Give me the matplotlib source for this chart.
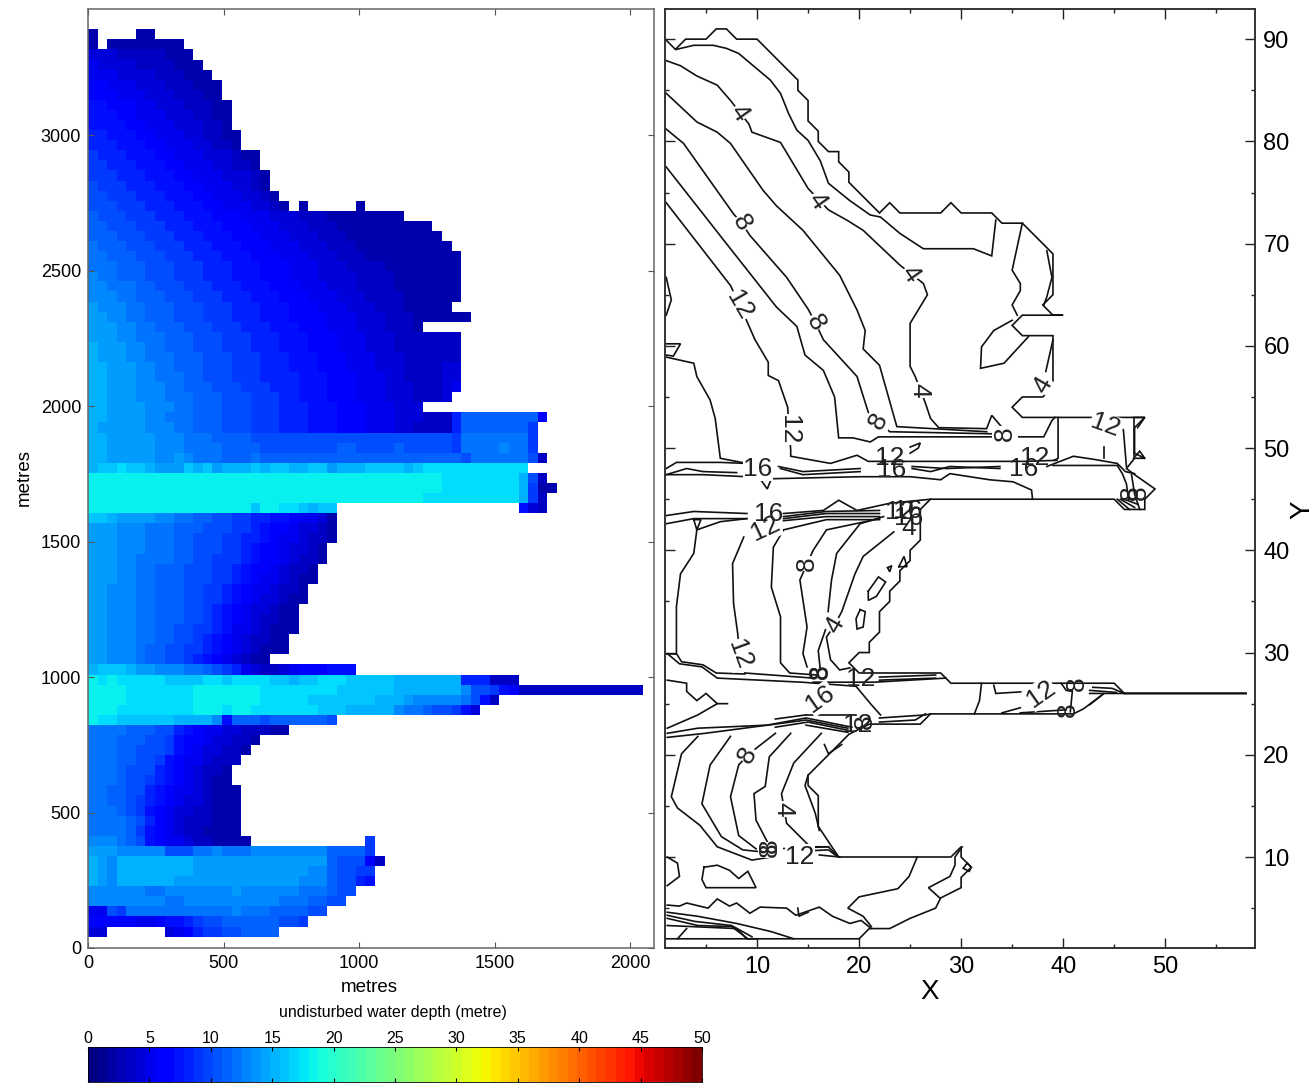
import numpy as np
import matplotlib
matplotlib.use("Agg")
import matplotlib.pyplot as plt
from matplotlib.cm import ScalarMappable
from matplotlib.colors import Normalize

plt.rcParams['font.family'] = ['Liberation Sans', 'DejaVu Sans']

# depth per grid cell in metres, one base-36 char per cell, '.' = land, top row first
depth_rows = [
    "2.... 22",
    "2.222 22222",
    "44433 33322 2",
    "54444 33332 22",
    "55544 44333 222",
    "66555 44433 3222",
    "66655 54443 3322",
    "77666 55444 33322",
    "77766 55544 43322",
    "77776 65554 44332",
    "88777 66555 44332 2",
    "88877 76655 54433 2",
    "98887 77665 55444 322",
    "99888 77766 55544 332",
    "99988 87776 65554 4432",
    "a9998 88777 66555 4432",
    "aa999 88877 76655 54432",
    "aaa99 98887 77665 55443 2.2.. ...2.",
    "baaa9 99888 77766 65554 44333 22222 222",
    "bbaaa 99988 87776 66555 44433 32222 22222 2",
    "bbbaa a9998 88777 66655 54443 33222 22222 22",
    "cbbba aa999 88877 76665 55444 33322 22222 222",
    "ccbbb aaa99 98887 77666 55544 43332 22222 2222",
    "cccbb baaa9 99888 77766 65554 44333 32222 2222",
    "dccbb baaa9 99888 77766 65554 44433 33222 2222",
    "ddccc bbaaa 99988 87776 66555 44433 33222 2222",
    "dddcc bbbaa a9998 88777 66655 54443 33322 2222",
    "edddc cbbba aa999 88877 76665 55444 33322 222",
    "eeddc cbbba aa999 88877 76666 55544 43332 22222",
    "eeedd ccbbb aaa99 98887 77666 55544 43332",
    "eeedd cccbb baaa9 99888 77766 65554 44333 3333",
    "feeed dccbb baaa9 99888 77766 65554 44333 3333",
    "feeed dcccb bbaaa 99988 87776 66555 44433 3333",
    "ffeee ddccb bbaaa 99988 87776 66555 44433 3344",
    "ffeee ddccc bbaaa 99988 88777 66655 54433 3344",
    "ffeee dddcc bbbaa a9998 88777 66655 54443 3345",
    "ffeee dddcc cbbba aa999 88777 66655 54443 334",
    "ffeee edddc cbbba aa999 88877 76665 55444",
    "ffeee eddcc cbbba aa999 88877 76665 55444 3338b bbbbb bb6",
    "feeee edddc cbbba aa999 88877 76665 55443 3338b bbbbb b9",
    "ffeee eeddd cccbb bbaaa aaaaa aaaaa aaaaa aaa9c ccccc c9",
    "ffeee eeddd ccccb bbbaa aaaaa abbaa aabaa aaa9c cccdc c9",
    "ffeee eedde dcccb bbcbb bbbbb bbbbb bbbbb bbbba ccccc ca3",
    "fgghg gfeee gfgef ffgfg gffgg efffg gggfg hhhhh hhhhh h",
    "iiiii iiiii iiiii iiiii iiiii iiiii iiiii iihhh hhhhh fa3",
    "iiiii iiiii iiiii iiiii iiiii iiiii iiiii iihhh hhhhh f922",
    "iiiii iiiii iiiii iiiii iiiii iiiii iiiii hhhhh hhhhh f93",
    "iiiii iiiii iiiii iigii hhgfg g.... ..... ..... ..... 743",
    "ggfee eeddc cbbaa 99887 76554 2",
    "eeedd dcccb bbaaa 99876 65443 2",
    "eeedd dcccb baaa9 98876 55433 2",
    "eeedd dcccb baaa9 98766 54432",
    "eeedd ccccb baa99 98766 54332",
    "eeedd ccbbb aaa99 87665 4332",
    "eeedd ccbbb aaa99 87655 4322",
    "eeddd ccbbb aa998 76554 332",
    "eeddd ccbbb aa998 76544 322",
    "eeddd ccbbb aa987 65443 22",
    "eeddd ccbbb aa987 65433 22",
    "eeddd ccbba a9987 55432 22",
    "eeddd ccbba a9876 54332 2",
    "eeddd cbbaa 99876 54322 2",
    "eeddd cbbaa 98765 4322",
    "fgggf eeddd ccba9 85433 45666 777",
    "ihihh hhhgg gghhg hhhhg gfggh hhggg ggfff ffff8 88333",
    "iiiih hhhhh hiiii iiihh hhhhh hgggg ggfff ffffd aa976 33333 33333 333",
    "iiiih hhhhh hiiii iiihh hhhgg ggggg fffed ddddc a73",
    "iiihh hhhhh hiiih iihhh hhhhg ggfff ffdcc baa97 4",
    "ihhgg ggggf fffd7 bbbab bbbbb a",
    "ccccb bbaa8 76554 43332 2",
    "cccbb baa97 66544 332",
    "cccbb aaa97 65443 32",
    "cccbb aa976 55433 3",
    "cccba aa876 54332",
    "cccba a9876 54322",
    "ccbba a8765 54322 2",
    "ccbba 98765 44322 2",
    "cccba 97654 43322 2",
    "ccccb a8654 33322 2",
    "ccccb 97654 33222 2",
    "dddcb a7655 43322 22... ..... ....9",
    "eeedd dddaa accdc ccddd ddddd bbbb9",
    "fedff fffff feeee eeeee eeeee baaa6 3",
    "fedff fffff feeee eeeee eeedd baa99",
    "fedff ffffe eeeee eeeee eeddd baa87",
    "ddddd dccdd ddddd edddd ddccc baa",
    "ddddd dddcc ddddd ddddd cccbb aa",
    "55a9c ccccc ccccc dcccb bbbaa",
    "66666 55677 89aab bbbbb aa9",
    "44... ...45 6899a abbbb",
]

xticks_left = [0, 500, 1000, 1500, 2000]
yticks_left = [0, 500, 1000, 1500, 2000, 2500, 3000]
xticks_right = [10, 20, 30, 40, 50]
yticks_right = [10, 20, 30, 40, 50, 60, 70, 80, 90]
cbar_ticks = [0, 5, 10, 15, 20, 25, 30, 35, 40, 45, 50]

# contour traces, grid X / Y
coast = [(1, 90), (2, 89), (3, 90), (5, 90), (6, 91), (7, 91), (8, 90), (10, 90), (14, 86), (14, 85),
         (15, 84), (15, 82), (16, 81), (16, 80), (17, 79), (18, 79), (18, 78), (19, 77), (19, 76),
         (22, 73), (23, 74), (24, 73), (28, 73), (29, 74), (30, 73), (33, 73), (34, 72), (36, 72),
         (39, 69), (39, 65), (38, 64), (39, 63), (40, 63), (36, 63), (35, 62), (36, 61), (39, 61),
         (39, 56), (38, 55), (36, 55), (35, 54), (36, 53), (48, 53), (47, 52), (47, 49.5), (48, 49),
         (47, 49), (46.2, 48), (47, 47.4), (49, 46), (48, 45), (48, 44), (46, 44), (45, 45), (27, 45),
         (26, 44), (26, 41), (25, 40), (25, 39), (24, 38), (24, 37), (23, 36), (23, 35), (22, 34),
         (22, 32), (21, 31), (21, 30), (20, 30), (19, 29), (20, 28), (28, 28), (29, 27), (45, 27),
         (46, 26), (58, 26), (44, 26), (42, 24.5), (41, 24), (27, 24), (26, 23), (21, 23), (19, 22),
         (17, 20), (15, 18), (15, 17), (16, 16), (16, 13), (18, 10), (29, 10), (30, 11), (30, 10),
         (31, 9), (30, 8), (30, 7), (28, 6), (27.5, 5), (25, 4), (23, 3), (21, 3), (20, 2), (1, 2)]
line2a = [(2.1, 89), (3.8, 89.4), (5.7, 89.4), (7, 89.1), (8.2, 88.6), (11.3, 86), (12.3, 84.7), (13.1, 82.7),
          (13.9, 81.1), (15, 80.1), (16.2, 78.1), (17, 75.9), (19.1, 74.2), (21.1, 72.8), (22.1, 72.6), (24, 71),
          (26.3, 69.5), (29.3, 69.5), (31.2, 69.5), (33, 68.8), (33.4, 72.3)]
line4a = [(1.1, 87.9), (2.5, 87.4), (4.1, 86.4), (6.1, 85.5), (7.4, 84), (9.2, 81.7), (9.5, 80.9), (12.3, 79.9),
          (15, 75.4), (17, 73.3), (18.8, 72.3), (20.4, 71.3), (24, 67.9), (26.3, 66.1), (26.7, 65), (25, 62.2),
          (25, 58), (25.5, 57), (26.5, 54.4), (27, 52.9), (27.8, 52), (32.5, 51.9), (33, 53.2), (34.2, 51.8)]
line6a = [(1.1, 84.7), (2.5, 83.4), (4.1, 81.9), (6.1, 80.9), (7.4, 79.8), (10.6, 75.2), (11.9, 73.7), (14.5, 71.3),
          (18.1, 66.9), (19.8, 63.5), (20.6, 61.5), (20.4, 59.7), (22, 58.1), (23.7, 52.1), (32.5, 51.6)]
line8a = [(1.1, 81.2), (2.8, 79.8), (7.7, 72.9), (8.5, 72), (9.3, 70.8), (12.9, 66.7), (15, 63.6), (15.7, 62.3),
          (16.5, 60.6), (19.8, 57), (20.9, 53.5), (21.9, 52.6), (23, 51.6), (33, 51.4)]
line10a = [(1.1, 77.5), (7, 70), (11.9, 63.8), (13.9, 61.9), (14.7, 59.1), (16.5, 57.6), (17.6, 55), (18, 51),
           (19.4, 51), (21.1, 50.6), (21.9, 51.1), (32.5, 51.1), (38.1, 51.1), (38.9, 52.7), (39.2, 53)]
line12a = [(1.1, 74), (7.4, 65.9), (8.3, 64), (9.8, 60.6), (11.1, 58.4), (11.1, 57.1), (12.1, 56.6), (13, 54),
           (13.3, 49.8), (13.3, 49.2), (17.2, 48.5), (19.8, 49.3), (20.9, 48.7), (25, 48.7), (36.1, 48.7), (39.4, 48.8)]
line14a = [(1.1, 58.9), (3.8, 58.3), (4.1, 57), (5.4, 54.7), (5.9, 52.9), (6.4, 49), (9, 48.5)]
ring_west1 = [(1.1, 66.7), (1.6, 64.5), (1.1, 63)]
ring_west2 = [(1.1, 60.2), (2.5, 60.2), (1.8, 59), (1.1, 59.1)]
# north east corner
ne1 = [(36, 72), (35, 67.4), (35.8, 66.1), (35.8, 65.4), (35, 64), (35.5, 63)]
ne2 = [(38.4, 69.3), (38.9, 66.7), (38.4, 64.8), (38.1, 64)]
ne3 = [(35, 62.5), (33.2, 61.5), (32, 59.9), (31.9, 57.8), (34.2, 58.3), (36.6, 60.9)]
ne4 = [(39, 60.6), (38.3, 57.5)]
# upper channel
chan1 = [(1.1, 48), (2.1, 48.6), (6.4, 48.6), (9, 48.5)]
chan2 = [(1.1, 47.4), (3.1, 48), (4.7, 47.7), (8, 47.6)]
chan3 = [(1.1, 47.4), (4.7, 47.4), (9, 47.2), (10.3, 47), (11, 46), (11.4, 47), (20.1, 47.2), (25, 47.2), (28, 46.9),
         (28.9, 47.5), (32.8, 46.9), (35.1, 46.7), (36.9, 45.9), (37, 45)]
chan4 = [(12.1, 48.2), (14.5, 47.7), (20.1, 48)]
chan5 = [(12.3, 48), (14.5, 47.4), (20.1, 47.7)]
chan6 = [(25.2, 48.2), (28.6, 48), (33.8, 48.2)]
chan7 = [(25.2, 48), (27, 47.7), (28.9, 48.2), (33.8, 48)]
chan8 = [(38.4, 48.2), (41, 49.2), (43, 48.9), (45.3, 48.5), (46.1, 47.7), (47, 47.5)]
chan9 = [(39.5, 53), (39.5, 49), (39.1, 48.8)]
chan10 = [(39, 48.3), (45.3, 48.3), (45.8, 47.5), (46.2, 46.5), (46.4, 45)]
stub1 = [(44, 50.1), (44, 49)]
stub2 = [(45.9, 51.8), (46.2, 48.2)]
stub3 = [(46.9, 52.9), (46.9, 49.2)]
tri1 = [(46.9, 53), (48, 53), (47.3, 52)]
tri2 = [(46.9, 49), (47.5, 49.7), (48, 49)]
mark1 = [(25, 50.1), (26, 50.5), (25.8, 50), (25, 49.5)]
fan1 = [(45.3, 45), (46.5, 44)]
fan2 = [(45.6, 45), (47, 44.2)]
fan3 = [(46, 45), (47.3, 44.5)]
fan4 = [(46.7, 47.4), (47, 45.5), (47.5, 44)]
# middle channel
mid1 = [(1.1, 43.4), (3.8, 43.8), (9, 43.6)]
mid2 = [(12.6, 43.6), (16.5, 43.9), (18, 44.9), (19.8, 43.9), (23, 44.6), (27, 45)]
mid3 = [(1.1, 42.6), (3.8, 43.1), (9, 43.1)]
mid4 = [(12.6, 43.1), (16.8, 43.6), (22, 43.6)]
mid5 = [(12.6, 42.9), (16.8, 43.3), (22, 43.3)]
mid6 = [(12.6, 43.3), (16.8, 43.8), (22, 43.9)]
tri3 = [(3.8, 43), (4.5, 43), (4.1, 42), (3.8, 43)]
line10b = [(4.1, 42), (6.4, 42.8), (9, 43.1)]
line10c = [(4.1, 42), (3.8, 39.7), (2.5, 37.7), (2.1, 34.5), (2.1, 29.9), (2.6, 29.1), (4.7, 28.8), (6, 28), (8.8, 27.9)]
step_w = [(1.1, 29.9), (2.1, 29.9)]
line12b = [(8.7, 41.3), (7.6, 38.7), (7.7, 34.8), (8.1, 31.9), (8.3, 29.8)]
line10d = [(22, 43), (16.8, 43), (12.6, 42), (11.6, 40.3), (11.4, 36.4), (12.3, 33.5), (12.3, 29), (13.2, 28), (15.9, 27.8)]
line8b = [(22, 43.1), (16.8, 42), (15.5, 40), (14.2, 37.1), (14.9, 32.5), (14.5, 29.9), (14.9, 28.6)]
line6b = [(22.4, 43.3), (20.1, 42.6), (17.8, 39.7), (17.3, 37.1), (16.8, 32.5), (16, 30.2), (16.2, 28.3)]
line4b = [(23.4, 41.8), (20.4, 39.4), (19.6, 37.7), (18.3, 34), (17.6, 32.7), (16.8, 31.5), (17.2, 29.3), (18.1, 28.3), (19.1, 28.5)]
poly1 = [(20.1, 34.2), (20.6, 34), (20.4, 32.5), (19.8, 32.3), (19.7, 33.3), (20.1, 34.2)]
poly2 = [(20.9, 36), (21.9, 37.4), (22.6, 36.9), (21.7, 35.5), (20.9, 35.1), (20.9, 36)]
poly3 = [(23.9, 38.4), (24.4, 39.4), (24.7, 38.4), (23.9, 38.4)]
poly4 = [(22.8, 38.3), (23.2, 38.5), (23, 37.9), (22.8, 38.3)]
# lower channel
low1 = [(1.2, 29.9), (2.4, 28.9), (4.6, 28.6), (6.1, 27.5), (14.4, 27.1), (19.7, 26.7), (21.2, 24.9), (22.1, 23.9)]
low2 = [(1.2, 27.3), (3.1, 27), (3.1, 26.2), (4.1, 25.3), (5, 26), (6.1, 25), (7.1, 25)]
low3 = [(6.1, 25), (4.2, 23.9), (1.2, 22.6)]
low4 = [(8.8, 28), (15.5, 27.5)]
low5 = [(15.5, 27.1), (21.5, 27.1), (28.5, 27.5)]
low6 = [(22, 27.6), (27.5, 27.8)]
low7 = [(22, 27.3), (27.5, 27.5)]
low8 = [(14.8, 23.9), (19.7, 23.9)]
low9 = [(1.2, 22.1), (4.2, 22.6), (11, 22.9), (14.8, 23.6), (19.3, 22.7)]
low10 = [(1.2, 21.7), (4.9, 22.1), (11.8, 23), (14.8, 23.4), (18.9, 22.6)]
low11 = [(11.8, 22.7), (15, 23.2), (18.9, 22.4)]
low12 = [(14.8, 22.9), (18.9, 22.2)]
low13 = [(11.8, 23.5), (14.8, 23.9)]
low14 = [(22, 23.6), (26.5, 23.9), (27, 24)]
low15 = [(22, 23.2), (25.5, 23.4), (26.5, 24)]
line10e = [(4.2, 21.8), (2.6, 20.1), (1.6, 15.9), (2.2, 14.8), (4.4, 13.1), (6.1, 11), (9.5, 9.7), (11.4, 10)]
line8c = [(7.4, 21.8), (5.4, 19), (4.6, 15.2), (6.5, 12), (8.6, 10.7), (11.4, 10.4)]
line8d = [(11.8, 22.1), (9.1, 20), (8.2, 19), (7.4, 15.9), (8.2, 12.1), (9.9, 10.8)]
line6c = [(13.3, 22.1), (11.2, 19.8), (10.8, 16.9), (9.7, 16.2), (9.9, 13.6), (11, 11.5)]
line4c = [(16.3, 22.1), (13.6, 19.2), (12.4, 16.2), (12.9, 13.3), (15.2, 11), (17, 11)]
line2b = [(15, 18), (14.7, 17), (15.7, 14.3), (16.1, 12.6)]
tri4 = [(16.6, 21), (17, 20.1), (18.3, 21)]
fan5 = [(11.8, 10.8), (17, 11), (18, 10)]
fan6 = [(12.9, 10.5), (17, 10.7), (17.8, 10.1)]
fan7 = [(16.1, 10.2), (18.1, 10)]
# south basin
south1 = [(1.2, 10), (2.2, 9.4), (2.4, 8.1), (1.2, 7.2)]
south2 = [(4.8, 9), (6.1, 9.2), (7.3, 8.7), (8.2, 7.9), (9.1, 8.6), (9.9, 7), (5, 7), (4.6, 7.8), (4.8, 9)]
south3 = [(25.7, 10), (24.9, 8.1), (23.8, 6.9), (20, 6.1), (18.9, 5), (20.4, 4.2), (21.2, 3.2)]
south4 = [(30.1, 11), (29.4, 10), (29.4, 9.2), (28.9, 8.1), (26.8, 7), (27.9, 6)]
south5 = [(30.6, 9.4), (30.2, 8.9), (30.8, 8.6), (31, 9), (30.6, 9.4)]
south6 = [(1.2, 5.3), (2.4, 5.2), (3.1, 5.5), (5.2, 5), (6.1, 5.9), (7.3, 5.2), (8, 5.5), (9.3, 4.5), (10.3, 5.1),
          (12.9, 5), (13.8, 4.3), (16.1, 5.1), (17.4, 4.2), (19.1, 3.5), (20.2, 3.8), (21.2, 3)]
south7 = [(14, 5), (14.1, 4.2), (15, 4.6)]
south8 = [(1.2, 4.6), (4.2, 4.2), (8, 3.5), (11.4, 2.7), (13.6, 2)]
south9 = [(1.2, 4.3), (3.9, 3.7), (7.5, 3.3), (9.5, 2.2)]
south10 = [(1.2, 4), (4.2, 3.3), (7.5, 3.2), (9.1, 2)]
south11 = [(1.2, 3.3), (8, 3), (9, 2), (9.9, 2)]
south12 = [(2.2, 2), (3.1, 3)]
# east of the lower channel
east1 = [(32, 27), (31.8, 25.3), (31.3, 24)]
east2 = [(33.2, 26.8), (33.4, 26), (36.6, 26.2)]
east3 = [(34, 24.1), (35.8, 24.6)]
east4 = [(35.8, 24.1), (40.3, 24.4)]
east5 = [(39.8, 27), (40.3, 26.3), (40.9, 26.2), (40.7, 24.2)]
east6 = [(42.6, 26.3), (45.2, 26.1)]
east7 = [(42.9, 26.6), (44.8, 26.5), (46, 26)]
east8 = [(42.6, 26), (44, 26), (42.6, 24.9)]

contour_lines = [coast, line2a, line4a, line6a, line8a, line10a, line12a, line14a, ring_west1, ring_west2,
                 ne1, ne2, ne3, ne4,
                 chan1, chan2, chan3, chan4, chan5, chan6, chan7, chan8, chan9, chan10,
                 stub1, stub2, stub3, tri1, tri2, mark1, fan1, fan2, fan3, fan4,
                 mid1, mid2, mid3, mid4, mid5, mid6, tri3, line10b, line10c, step_w, line12b, line10d,
                 line8b, line6b, line4b, poly1, poly2, poly3, poly4,
                 low1, low2, low3, low4, low5, low6, low7, low8, low9, low10, low11, low12, low13, low14, low15,
                 line10e, line8c, line8d, line6c, line4c, line2b, tri4, fan5, fan6, fan7,
                 south1, south2, south3, south4, south5, south6, south7, south8, south9, south10, south11, south12,
                 east1, east2, east3, east4, east5, east6, east7, east8]

# labels that break their line
label_text = ['4', '4', '4', '8', '8', '12', '12', '4', '8', '4', '12', '16', '12', '8', '4', '12',
              '4', '8', '12', '8', '16', '12', '8']
label_x = [8.3, 15.9, 25, 8.5, 15.7, 8.3, 13.1, 25.9, 21.9, 38, 44.1, 10.1, 10.8, 14.9, 17.6, 8.3,
           12.6, 9.1, 14.2, 11.3, 16.2, 37.8, 34.3]
label_y = [82.8, 74.2, 67, 72, 62.3, 64, 51.8, 55.7, 52.6, 56.2, 52.2, 48, 42.1, 38.7, 32.7, 29.8,
           14.7, 20, 10, 10.7, 25.5, 26, 51.4]
label_rot = [-55, -55, -55, -60, -60, -60, -90, -90, 60, 60, -20, 0, 25, 90, 60, -70,
             -90, 60, 0, 90, 35, 35, 90]
# labels piled on each other in the channels, no gap behind them
pile_text = ['12', '16', '16', '12', '16', '12', '16', '16', '4', '8', '12', '8', '8', '8', '12', '8', '8', '8', '8']
pile_x = [23, 23.2, 36.1, 37.2, 11.1, 24, 24.8, 24.9, 24.9, 16.3, 20.2, 41.3, 40.5, 20.6, 19.9, 46.6, 47.4, 11.3, 16.2]
pile_y = [49, 47.9, 48, 49, 43.6, 43.7, 43.8, 43.2, 42.2, 28.1, 27.4, 27, 24.4, 23.2, 22.9, 45.6, 45.6, 11.1, 28.1]
pile_rot = [0, 0, 0, 0, 0, 0, 0, 0, 0, 90, 0, 90, 90, 90, 0, 90, 90, 90, 90]

W, H = 1315, 1086
cell_w, cell_h = 35.3, 37.2
top_y = 3390

fig = plt.figure(figsize=(W / 100, H / 100), dpi=100)


def box(x0, y0, x1, y1):
    return [x0 / W, 1 - y1 / H, (x1 - x0) / W, (y1 - y0) / H]


# left panel
ax1 = fig.add_axes(box(88, 9, 654, 948))
depth = np.full((len(depth_rows), 58), np.nan)
for r, row in enumerate(depth_rows):
    for c, ch in enumerate(row.replace(' ', '')):
        if ch != '.':
            depth[r, c] = int(ch, 36)
x_edges = np.arange(59) * cell_w
y_edges = top_y - np.arange(len(depth_rows) + 1) * cell_h
cmap = plt.get_cmap('jet', 64)
ax1.pcolormesh(x_edges, y_edges, depth, cmap='jet', vmin=0, vmax=50, antialiased=False, rasterized=True)
ax1.set_xlim(0, 2088)
ax1.set_ylim(0, 3465)
ax1.set_xticks(xticks_left)
ax1.set_yticks(yticks_left)
ax1.tick_params(direction='in', top=True, right=True, length=4.5, width=0.8, color='#555555', labelsize=13, pad=5)
for s in ax1.spines.values():
    s.set_color('#666666')
    s.set_linewidth(1.1)
fig.text(369 / W, 1 - 987 / H, 'metres', ha='center', va='center', fontsize=13.5)
fig.text(24 / W, 1 - 478 / H, 'metres', ha='center', va='center', rotation=90, fontsize=13.5)

# right panel
ax2 = fig.add_axes(box(665, 9, 1255, 948))
for line in contour_lines:
    xs, ys = zip(*line)
    ax2.plot(xs, ys, color='#111111', lw=1.2, solid_joinstyle='miter', zorder=2)
for t, x, y, rot in zip(label_text, label_x, label_y, label_rot):
    ax2.text(x, y, t, rotation=rot, ha='center', va='center', fontsize=19, color='#222222', zorder=3,
             bbox=dict(facecolor='white', edgecolor='none', pad=0.3))
for t, x, y, rot in zip(pile_text, pile_x, pile_y, pile_rot):
    ax2.text(x, y, t, rotation=rot, ha='center', va='center', fontsize=19, color='#222222', zorder=4)
ax2.set_xlim(0.98, 58.8)
ax2.set_ylim(1.1, 92.95)
ax2.set_xticks(xticks_right)
ax2.set_yticks(yticks_right)
ax2.set_xticks(np.arange(5, 60, 10), minor=True)
ax2.set_yticks(np.arange(5, 90, 10), minor=True)
ax2.tick_params(which='both', direction='in', top=True, bottom=True, left=True, right=True,
                labelleft=False, labelright=True, width=1.0, color='#222222')
ax2.tick_params(which='major', length=7.5, labelsize=17, pad=6)
ax2.tick_params(which='minor', length=3.2)
for s in ax2.spines.values():
    s.set_color('#333333')
    s.set_linewidth(1.4)
fig.text(930 / W, 1 - 992 / H, 'X', ha='center', va='center', fontsize=20)
fig.text(1302 / W, 1 - 510 / H, 'Y', ha='center', va='center', rotation=90, fontsize=20)

# colour bar
cax = fig.add_axes(box(88, 1047, 702, 1082))
cb = fig.colorbar(ScalarMappable(Normalize(0, 50), cmap), cax=cax, orientation='horizontal')
cb.set_ticks(cbar_ticks)
cb.outline.set_linewidth(0.6)
cax.xaxis.set_ticks_position('both')
cax.xaxis.set_label_position('top')
cax.tick_params(axis='x', direction='in', length=3, width=0.8, labeltop=True, labelbottom=False, labelsize=11.5, pad=1)
fig.text(393 / W, 1 - 1013 / H, 'undisturbed water depth (metre)', ha='center', va='center', fontsize=11.5)

fig.savefig('out.png', dpi=100)
